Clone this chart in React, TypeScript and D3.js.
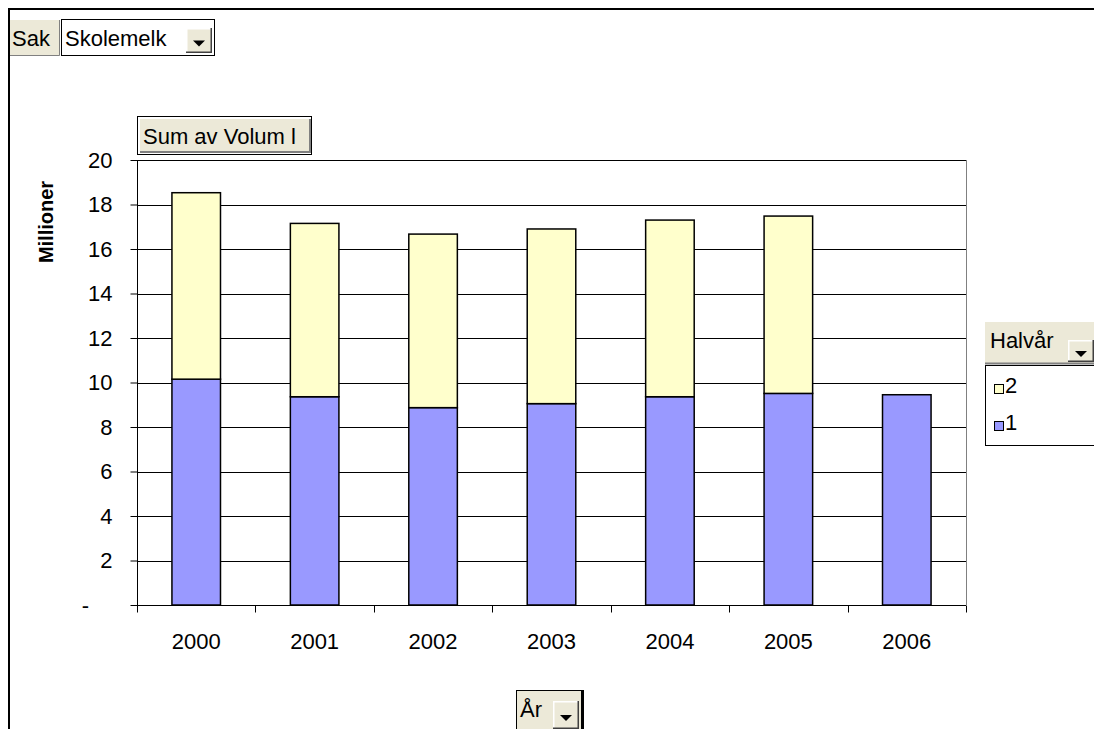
import React, { useRef, useEffect } from 'react';
import * as d3 from 'd3';

// data (millions)
const years = ['2000', '2001', '2002', '2003', '2004', '2005', '2006'];
const half1 = [10.15, 9.36, 8.87, 9.05, 9.36, 9.51, 9.45];
const half2 = [8.38, 7.79, 7.8, 7.85, 7.94, 7.97, 0];
const yTicks = [0, 2, 4, 6, 8, 10, 12, 14, 16, 18, 20];
const seriesNames = ['1', '2'];
const seriesColors = ['#9999FF', '#FFFFCC'];

const W = 1094;
const H = 729;
const FONT = 'Liberation Sans, Arial, sans-serif';
const FS = 22;
const BTN = '#ECE9D8';

type Row = { year: string; v1: number; v2: number };

const App: React.FC = () => {
  const svgRef = useRef<SVGSVGElement | null>(null);

  useEffect(() => {
    if (!svgRef.current) return;
    const svg = d3.select(svgRef.current);
    svg.selectAll('*').remove();

    const rows: Row[] = years.map((y, i) => ({ year: y, v1: half1[i], v2: half2[i] }));

    const plot = { left: 137, right: 966, top: 160, bottom: 605 };

    const x = d3.scaleBand<string>()
      .domain(years)
      .range([plot.left, plot.right])
      .paddingInner(0.59)
      .paddingOuter(0.295);
    const band = d3.scaleBand<string>().domain(years).range([plot.left, plot.right]);

    const y = d3.scaleLinear().domain([0, 20]).range([plot.bottom, plot.top]);

    // frame
    svg.append('line').attr('x1', 8).attr('x2', W).attr('y1', 9).attr('y2', 9)
      .attr('stroke', '#000').attr('stroke-width', 2);
    svg.append('line').attr('x1', 9).attr('x2', 9).attr('y1', 9).attr('y2', H)
      .attr('stroke', '#000').attr('stroke-width', 2);

    // dropdown arrow button
    const arrowBtn = (g: d3.Selection<SVGGElement, unknown, null, undefined>, bx: number, by: number, bw: number, bh: number) => {
      g.append('rect').attr('x', bx).attr('y', by).attr('width', bw).attr('height', bh).attr('fill', BTN);
      g.append('path').attr('d', `M${bx + 0.75},${by + bh}V${by + 0.75}H${bx + bw}`).attr('stroke', '#fff').attr('fill', 'none').attr('stroke-width', 1.5);
      g.append('path').attr('d', `M${bx},${by + bh - 0.75}H${bx + bw - 0.75}V${by}`).attr('stroke', '#404040').attr('fill', 'none').attr('stroke-width', 1.5);
      const cx = bx + bw / 2;
      const cy = by + bh / 2 + 3;
      g.append('path').attr('d', `M${cx - 6},${cy - 3}L${cx + 6},${cy - 3}L${cx},${cy + 3}Z`).attr('fill', '#000');
    };

    // Sak / Skolemelk page field
    const top = svg.append('g');
    top.append('rect').attr('x', 10).attr('y', 20).attr('width', 50).attr('height', 36).attr('fill', BTN);
    top.append('path').attr('d', 'M10,55.5H59.5V20').attr('stroke', '#808080').attr('fill', 'none');
    top.append('text').attr('x', 12).attr('y', 46).attr('font-family', FONT).attr('font-size', FS).text('Sak');
    top.append('rect').attr('x', 61.5).attr('y', 19.5).attr('width', 153).attr('height', 36).attr('fill', '#fff').attr('stroke', '#000');
    top.append('text').attr('x', 65).attr('y', 46).attr('font-family', FONT).attr('font-size', FS).text('Skolemelk');
    arrowBtn(top, 186, 28, 26, 25);

    // data field button
    const df = svg.append('g');
    df.append('rect').attr('x', 137.5).attr('y', 116.5).attr('width', 174).attr('height', 38).attr('fill', '#fff').attr('stroke', '#000');
    df.append('rect').attr('x', 140).attr('y', 119).attr('width', 170).attr('height', 33).attr('fill', BTN);
    df.append('path').attr('d', 'M140,152H310V119').attr('stroke', '#808080').attr('fill', 'none').attr('stroke-width', 2);
    df.append('text').attr('x', 143).attr('y', 144).attr('font-family', FONT).attr('font-size', FS).text('Sum av Volum l');

    // gridlines
    svg.append('g')
      .selectAll('line')
      .data(yTicks.filter(t => t > 0))
      .enter().append('line')
      .attr('x1', plot.left).attr('x2', plot.right)
      .attr('y1', d => Math.round(y(d)) + 0.5).attr('y2', d => Math.round(y(d)) + 0.5)
      .attr('stroke', '#000').attr('stroke-width', 1);

    // plot area border (right side)
    svg.append('line').attr('x1', plot.right + 0.5).attr('x2', plot.right + 0.5)
      .attr('y1', plot.top).attr('y2', plot.bottom).attr('stroke', '#808080');

    // bars
    const bars = svg.append('g');
    bars.selectAll('rect.s1')
      .data(rows)
      .enter().append('rect')
      .attr('class', 's1')
      .attr('x', d => x(d.year)!)
      .attr('width', x.bandwidth())
      .attr('y', d => y(d.v1))
      .attr('height', d => y(0) - y(d.v1))
      .attr('fill', seriesColors[0])
      .attr('stroke', '#000').attr('stroke-width', 1.5);
    bars.selectAll('rect.s2')
      .data(rows.filter(d => d.v2 > 0))
      .enter().append('rect')
      .attr('class', 's2')
      .attr('x', d => x(d.year)!)
      .attr('width', x.bandwidth())
      .attr('y', d => y(d.v1 + d.v2))
      .attr('height', d => y(d.v1) - y(d.v1 + d.v2))
      .attr('fill', seriesColors[1])
      .attr('stroke', '#000').attr('stroke-width', 1.5);

    // y axis
    const yAxis = svg.append('g')
      .attr('transform', `translate(${plot.left + 0.5},0)`)
      .call(d3.axisLeft(y).tickValues(yTicks).tickSize(7).tickPadding(18)
        .tickFormat(d => (+d === 0 ? '-' : String(d))));
    yAxis.select('.domain').attr('stroke', '#000').attr('d', `M0,${plot.top}V${plot.bottom}`);
    yAxis.selectAll('.tick line').attr('stroke', '#000');
    yAxis.selectAll('text').attr('font-family', FONT).attr('font-size', FS).attr('fill', '#000');
    yAxis.selectAll<SVGTextElement, number>('.tick text')
      .filter(d => d === 0)
      .attr('x', 85 - plot.left)
      .attr('text-anchor', 'middle');

    // x axis
    const xAxis = svg.append('g').attr('transform', `translate(0,${plot.bottom + 0.5})`);
    xAxis.append('line').attr('x1', plot.left).attr('x2', plot.right).attr('stroke', '#000');
    xAxis.selectAll('line.tk')
      .data(years.concat(['end']))
      .enter().append('line')
      .attr('class', 'tk')
      .attr('x1', (d, i) => Math.round(i < years.length ? band(d)! : plot.right) + 0.5)
      .attr('x2', (d, i) => Math.round(i < years.length ? band(d)! : plot.right) + 0.5)
      .attr('y1', 0).attr('y2', 7).attr('stroke', '#000');
    xAxis.selectAll('text')
      .data(years)
      .enter().append('text')
      .attr('x', d => band(d)! + band.bandwidth() / 2)
      .attr('y', 43)
      .attr('text-anchor', 'middle')
      .attr('font-family', FONT).attr('font-size', FS)
      .text(d => d);

    // y title
    svg.append('text')
      .attr('transform', 'translate(53,222) rotate(-90)')
      .attr('text-anchor', 'middle')
      .attr('font-family', FONT).attr('font-size', 20).attr('font-weight', 'bold')
      .text('Millioner');

    // legend
    const lg = svg.append('g');
    lg.append('rect').attr('x', 985).attr('y', 322).attr('width', 109).attr('height', 42).attr('fill', BTN);
    lg.append('line').attr('x1', 985).attr('x2', 1094).attr('y1', 363.5).attr('y2', 363.5).attr('stroke', '#808080').attr('stroke-width', 2);
    lg.append('text').attr('x', 990).attr('y', 348).attr('font-family', FONT).attr('font-size', FS).text('Halvår');
    arrowBtn(lg, 1068, 340, 26, 22);
    lg.append('rect').attr('x', 985.5).attr('y', 365.5).attr('width', 120).attr('height', 80).attr('fill', '#fff').attr('stroke', '#000');
    const items = [1, 0];
    lg.selectAll('g.item')
      .data(items)
      .enter().append('g')
      .attr('class', 'item')
      .attr('transform', (d, i) => `translate(994,${393 + i * 37})`)
      .each(function (d) {
        const g = d3.select(this);
        g.append('rect').attr('x', 0.5).attr('y', -8.5).attr('width', 9).attr('height', 9)
          .attr('fill', seriesColors[d]).attr('stroke', '#000');
        g.append('text').attr('x', 11).attr('y', 0).attr('font-family', FONT).attr('font-size', FS).text(seriesNames[d]);
      });

    // År field button
    const ar = svg.append('g');
    ar.append('rect').attr('x', 516.5).attr('y', 690.5).attr('width', 67).attr('height', 40).attr('fill', BTN).attr('stroke', '#000');
    ar.append('line').attr('x1', 582).attr('x2', 582).attr('y1', 691).attr('y2', 729).attr('stroke', '#000').attr('stroke-width', 2);
    ar.append('text').attr('x', 520).attr('y', 717).attr('font-family', FONT).attr('font-size', FS).text('År');
    arrowBtn(ar, 553, 701, 26, 28);
  }, []);

  return (
    <svg ref={svgRef} width={W} height={H}
      style={{ position: 'absolute', left: 0, top: 0, background: '#fff', display: 'block' }} />
  );
};

export default App;
